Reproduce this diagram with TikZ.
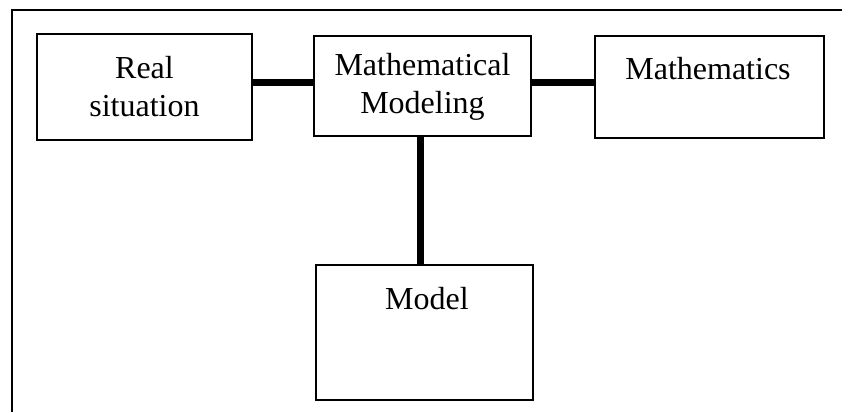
\documentclass[tikz,border=0pt]{standalone}
\usepackage{fontspec}
\setmainfont{Liberation Serif}
\tikzset{
  box/.style={draw=black, line width=1.6pt, rectangle, inner sep=0pt},
  label text/.style={font=\fontsize{32}{37.5}\selectfont, align=center, inner sep=0pt, anchor=base},
  link/.style={line width=7pt},
  frame/.style={line width=1.6pt}
}
\begin{document}
\begin{tikzpicture}[x=1pt, y=-1pt]
  \useasboundingbox (0,0) rectangle (848,412);

  % open outer frame (top and left sides)
  \coordinate (frameTR) at (842,10);
  \coordinate (frameTL) at (12,10);
  \coordinate (frameBL) at (12,412);
  \draw[frame] (frameTR) -- (frameTL) -- (frameBL);

  % boxes
  \node[box, minimum width=215pt, minimum height=106pt] (real)  at (144.5,87)  {};
  \node[box, minimum width=217pt, minimum height=100pt] (mm)    at (422.5,86)  {};
  \node[box, minimum width=229pt, minimum height=102pt] (math)  at (709.5,87)  {};
  \node[box, minimum width=217pt, minimum height=135pt] (model) at (424.5,332.5) {};

  % labels (base anchor sits on the last line)
  \node[label text] (realT)  at (144.5,116) {Real\\situation};
  \node[label text] (mmT)    at (422.5,113) {Mathematical\\Modeling};
  \node[label text] (mathT)  at (708,79)    {Mathematics};
  \node[label text] (modelT) at (427,309)   {Model};

  % thick connectors
  \draw[link] ([yshift=4pt]mm.west -| real.east) -- ([yshift=4pt]mm.west);
  \draw[link] ([yshift=4pt]mm.east) -- ([yshift=4pt]mm.east -| math.west);
  \draw[link] ([xshift=-2.5pt]mm.south) -- ([xshift=-2.5pt]mm.south |- model.north);
\end{tikzpicture}
\end{document}
